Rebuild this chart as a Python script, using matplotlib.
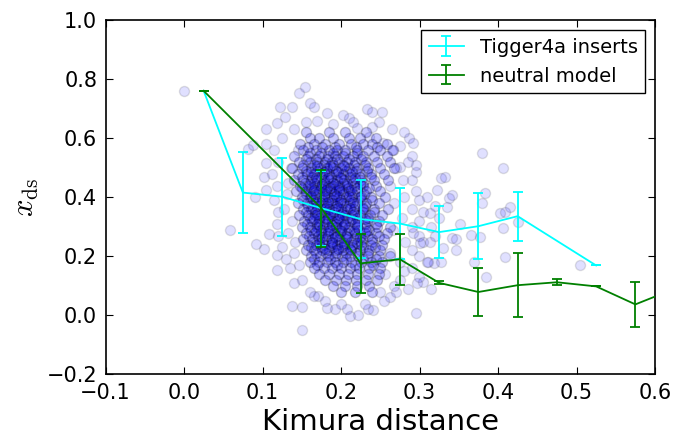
import numpy as np
import matplotlib
matplotlib.use('Agg')
import matplotlib.pyplot as plt

plt.rcParams['mathtext.fontset'] = 'cm'

# ── binned means (Tigger4a inserts) ───────────────────────────────────────────
ins_x = [0.025, 0.075, 0.125, 0.175, 0.225, 0.275, 0.325, 0.375, 0.425, 0.525]
ins_y = [0.761, 0.416, 0.402, 0.363, 0.326, 0.311, 0.282, 0.302, 0.336, 0.169]
ins_err = [0.0, 0.137, 0.132, 0.127, 0.131, 0.121, 0.087, 0.112, 0.083, 0.0]

# ── neutral model ─────────────────────────────────────────────────────────────
neu_x = [0.025, 0.175, 0.225, 0.275, 0.325, 0.375, 0.425, 0.475, 0.525, 0.575, 0.625]
neu_y = [0.761, 0.363, 0.176, 0.190, 0.110, 0.079, 0.102, 0.112, 0.098, 0.037, 0.090]
neu_err = [0.0, 0.130, 0.100, 0.087, 0.005, 0.080, 0.108, 0.010, 0.0, 0.075, 0.03]

# ── individual inserts, sparse outskirts (x, x_ds) ───────────────────────────
outer_pts = [
    (0.000, 0.761), (0.058, 0.290), (0.092, 0.242), (0.102, 0.224), (0.108, 0.276),
    (0.090, 0.400), (0.102, 0.470), (0.104, 0.425), (0.105, 0.515), (0.081, 0.563),
    (0.088, 0.577), (0.105, 0.580), (0.105, 0.630), (0.118, 0.651), (0.122, 0.707),
    (0.129, 0.673), (0.138, 0.705), (0.147, 0.755), (0.154, 0.773), (0.160, 0.721),
    (0.166, 0.707), (0.182, 0.685), (0.203, 0.679), (0.210, 0.668), (0.233, 0.698),
    (0.240, 0.690), (0.252, 0.688), (0.248, 0.656), (0.220, 0.634), (0.236, 0.603),
    (0.254, 0.585), (0.265, 0.560), (0.275, 0.575), (0.286, 0.600), (0.292, 0.583),
    (0.275, 0.504), (0.296, 0.487), (0.290, 0.459), (0.279, 0.459), (0.322, 0.425),
    (0.327, 0.464), (0.333, 0.468), (0.341, 0.408), (0.337, 0.397), (0.335, 0.368),
    (0.379, 0.549), (0.406, 0.498), (0.384, 0.416), (0.379, 0.380), (0.415, 0.366),
    (0.403, 0.346), (0.409, 0.350), (0.352, 0.310), (0.305, 0.351), (0.313, 0.346),
    (0.407, 0.295), (0.426, 0.317), (0.366, 0.272), (0.377, 0.264), (0.409, 0.199),
    (0.385, 0.129), (0.504, 0.170), (0.369, 0.182), (0.341, 0.261), (0.347, 0.260),
    (0.347, 0.221), (0.328, 0.182), (0.315, 0.088), (0.296, 0.007), (0.305, 0.114),
    (0.297, 0.110), (0.300, 0.130), (0.318, 0.176), (0.311, 0.180), (0.305, 0.250),
    (0.313, 0.247), (0.330, 0.227), (0.301, 0.244), (0.309, 0.182), (0.262, 0.063),
    (0.241, 0.018), (0.235, 0.020), (0.222, 0.001), (0.212, -0.002), (0.208, 0.020),
    (0.192, 0.020), (0.182, 0.024), (0.171, 0.065), (0.165, 0.065), (0.150, 0.029),
    (0.138, 0.031), (0.150, -0.050), (0.140, 0.108), (0.118, 0.154), (0.119, 0.204),
    (0.292, 0.278), (0.295, 0.420), (0.300, 0.390), (0.310, 0.400), (0.320, 0.370),
    (0.290, 0.360), (0.300, 0.320), (0.315, 0.300), (0.325, 0.330), (0.290, 0.300),
    (0.300, 0.270), (0.320, 0.270), (0.290, 0.220), (0.300, 0.200), (0.280, 0.150),
    (0.290, 0.160), (0.275, 0.120), (0.285, 0.090), (0.270, 0.080), (0.255, 0.050),
    (0.230, 0.040), (0.200, 0.040), (0.180, 0.050), (0.160, 0.080), (0.150, 0.120),
    (0.135, 0.160), (0.130, 0.190), (0.125, 0.230), (0.120, 0.270), (0.118, 0.310),
    (0.120, 0.350), (0.115, 0.390), (0.118, 0.440), (0.112, 0.480), (0.120, 0.520),
    (0.115, 0.560), (0.125, 0.600), (0.140, 0.630), (0.155, 0.655), (0.170, 0.660),
    (0.190, 0.650), (0.215, 0.655), (0.240, 0.640), (0.265, 0.630), (0.280, 0.620),
    (0.290, 0.540), (0.285, 0.520), (0.295, 0.510), (0.268, 0.100), (0.250, 0.080),
    (0.275, 0.180), (0.282, 0.250), (0.278, 0.330), (0.280, 0.400), (0.270, 0.500),
    (0.132, 0.450), (0.128, 0.360), (0.133, 0.280), (0.140, 0.210), (0.145, 0.560),
    (0.136, 0.500), (0.131, 0.410), (0.137, 0.320), (0.142, 0.250), (0.146, 0.170),
    (0.262, 0.440), (0.268, 0.380), (0.266, 0.290), (0.262, 0.210), (0.256, 0.140),
]

# ── individual inserts, dense body: rows of (x_ds, [Kimura distances]) ───────
core_rows = [
    (0.62, [0.155, 0.185, 0.205, 0.232]),
    (0.60, [0.160, 0.172, 0.190, 0.210, 0.224, 0.245]),
    (0.58, [0.148, 0.165, 0.180, 0.198, 0.213, 0.228, 0.240, 0.258]),
    (0.57, [0.158, 0.176, 0.192, 0.219, 0.246]),
    (0.56, [0.152, 0.168, 0.185, 0.195, 0.205, 0.220, 0.235, 0.250, 0.266]),
    (0.55, [0.160, 0.175, 0.190, 0.205, 0.220]),
    (0.54, [0.140, 0.158, 0.172, 0.183, 0.192, 0.202, 0.215, 0.228, 0.242, 0.258]),
    (0.53, [0.155, 0.168, 0.182, 0.195, 0.210, 0.225]),
    (0.52, [0.146, 0.160, 0.170, 0.180, 0.188, 0.198, 0.208, 0.218, 0.232, 0.246, 0.262]),
    (0.51, [0.152, 0.165, 0.178, 0.190, 0.203, 0.216, 0.230]),
    (0.50, [0.138, 0.150, 0.162, 0.173, 0.182, 0.190, 0.200, 0.210, 0.220, 0.235, 0.250, 0.268]),
    (0.49, [0.156, 0.170, 0.181, 0.194, 0.206, 0.219, 0.233]),
    (0.48, [0.145, 0.157, 0.166, 0.176, 0.185, 0.193, 0.202, 0.212, 0.224, 0.238, 0.255]),
    (0.47, [0.150, 0.163, 0.175, 0.187, 0.199, 0.211, 0.224, 0.238]),
    (0.46, [0.140, 0.152, 0.162, 0.170, 0.178, 0.186, 0.195, 0.204, 0.214, 0.226, 0.242, 0.260]),
    (0.45, [0.154, 0.166, 0.178, 0.190, 0.202, 0.215, 0.228]),
    (0.44, [0.148, 0.158, 0.167, 0.175, 0.183, 0.190, 0.198, 0.207, 0.216, 0.228, 0.245]),
    (0.43, [0.150, 0.162, 0.174, 0.186, 0.197, 0.209, 0.221, 0.236]),
    (0.42, [0.143, 0.155, 0.164, 0.172, 0.180, 0.187, 0.194, 0.202, 0.210, 0.220, 0.232, 0.250]),
    (0.41, [0.156, 0.168, 0.179, 0.191, 0.203, 0.215, 0.229]),
    (0.40, [0.150, 0.160, 0.168, 0.176, 0.184, 0.191, 0.198, 0.206, 0.214, 0.224, 0.238, 0.256]),
    (0.39, [0.152, 0.164, 0.176, 0.188, 0.200, 0.212, 0.225, 0.240]),
    (0.38, [0.145, 0.157, 0.166, 0.174, 0.181, 0.188, 0.195, 0.203, 0.211, 0.220, 0.232, 0.248]),
    (0.37, [0.158, 0.170, 0.182, 0.194, 0.206, 0.218, 0.231]),
    (0.36, [0.152, 0.162, 0.170, 0.178, 0.185, 0.192, 0.200, 0.208, 0.217, 0.228, 0.242, 0.260]),
    (0.35, [0.155, 0.167, 0.179, 0.191, 0.203, 0.215, 0.228, 0.242]),
    (0.34, [0.147, 0.158, 0.167, 0.175, 0.183, 0.190, 0.197, 0.205, 0.214, 0.224, 0.237, 0.252]),
    (0.33, [0.160, 0.172, 0.184, 0.196, 0.208, 0.221, 0.234]),
    (0.32, [0.153, 0.163, 0.172, 0.180, 0.188, 0.195, 0.203, 0.212, 0.222, 0.234, 0.248]),
    (0.31, [0.157, 0.169, 0.181, 0.193, 0.205, 0.218, 0.231, 0.245]),
    (0.30, [0.150, 0.160, 0.169, 0.177, 0.185, 0.193, 0.201, 0.210, 0.220, 0.232, 0.246, 0.262]),
    (0.29, [0.162, 0.174, 0.186, 0.198, 0.210, 0.223, 0.236]),
    (0.28, [0.156, 0.166, 0.175, 0.183, 0.191, 0.199, 0.208, 0.218, 0.230, 0.244, 0.258]),
    (0.27, [0.159, 0.171, 0.183, 0.195, 0.207, 0.220, 0.234, 0.248]),
    (0.26, [0.152, 0.163, 0.172, 0.181, 0.189, 0.197, 0.206, 0.216, 0.227, 0.240, 0.255]),
    (0.25, [0.164, 0.176, 0.188, 0.200, 0.213, 0.226, 0.240]),
    (0.24, [0.158, 0.168, 0.178, 0.187, 0.195, 0.204, 0.214, 0.225, 0.238, 0.252]),
    (0.23, [0.162, 0.175, 0.188, 0.201, 0.214, 0.228, 0.243]),
    (0.22, [0.155, 0.166, 0.176, 0.185, 0.194, 0.203, 0.213, 0.224, 0.236, 0.250]),
    (0.21, [0.168, 0.181, 0.194, 0.207, 0.220, 0.234]),
    (0.20, [0.162, 0.173, 0.183, 0.192, 0.201, 0.211, 0.222, 0.234, 0.248, 0.262]),
    (0.19, [0.166, 0.186, 0.206, 0.228, 0.244]),
    (0.18, [0.160, 0.172, 0.182, 0.192, 0.202, 0.213, 0.225, 0.238, 0.252]),
    (0.17, [0.170, 0.195, 0.218, 0.241]),
    (0.16, [0.166, 0.178, 0.189, 0.200, 0.211, 0.223, 0.236, 0.250]),
    (0.14, [0.172, 0.185, 0.197, 0.209, 0.221, 0.234, 0.248]),
    (0.12, [0.180, 0.193, 0.206, 0.219, 0.232, 0.246]),
    (0.10, [0.190, 0.205, 0.220, 0.236]),
    (0.08, [0.200, 0.218, 0.240]),
]

# ── densest part of the body, extra inserts between the rows above ────────────
centre_rows = [
    (0.505, [0.170, 0.186, 0.204]),
    (0.485, [0.162, 0.178, 0.196, 0.214]),
    (0.465, [0.168, 0.183, 0.200, 0.218]),
    (0.445, [0.160, 0.176, 0.192, 0.208, 0.224]),
    (0.425, [0.166, 0.181, 0.197, 0.213]),
    (0.405, [0.162, 0.178, 0.194, 0.210, 0.226]),
    (0.385, [0.168, 0.184, 0.199, 0.215]),
    (0.365, [0.164, 0.180, 0.196, 0.212, 0.228]),
    (0.345, [0.170, 0.186, 0.201, 0.217]),
    (0.325, [0.166, 0.182, 0.198, 0.214, 0.230]),
    (0.305, [0.172, 0.188, 0.204, 0.220]),
    (0.285, [0.168, 0.184, 0.200, 0.216, 0.232]),
    (0.265, [0.176, 0.192, 0.208, 0.224]),
    (0.245, [0.172, 0.188, 0.204, 0.220]),
    (0.225, [0.180, 0.196, 0.212]),
]

out_x = [p[0] for p in outer_pts]
out_y = [p[1] for p in outer_pts]
core_x, core_y = [], []
for yv, xs in core_rows + centre_rows:
    core_x += xs
    core_y += [yv] * len(xs)

fig = plt.figure(figsize=(6.76, 4.43), dpi=100)
W, H = 676.0, 443.0
ax = fig.add_axes([105.5 / W, (H - 374.3) / H, (655 - 105.5) / W, (374.3 - 20.3) / H])

ax.scatter(out_x, out_y, s=52, c='b', edgecolors='k', linewidths=1.0, alpha=0.12, zorder=1)
ax.scatter(core_x, core_y, s=52, c='b', edgecolors='k', linewidths=1.0, alpha=0.22, zorder=1)

ax.errorbar(ins_x, ins_y, yerr=ins_err, color='cyan', lw=1.3, capsize=3.5,
            capthick=1.3, label='Tigger4a inserts', zorder=2)
ax.errorbar(neu_x, neu_y, yerr=neu_err, color='g', lw=1.3, capsize=3.5,
            capthick=1.3, label='neutral model', zorder=3)

ax.set_xlim(-0.1, 0.6)
ax.set_ylim(-0.2, 1.0)
ax.set_xticks(np.arange(-0.1, 0.61, 0.1))
ax.set_yticks(np.arange(-0.2, 1.01, 0.2))
ax.tick_params(direction='in', top=True, right=True, labelsize=15, length=5, pad=6)
for sp in ax.spines.values():
    sp.set_linewidth(1.2)

ax.set_xlabel('Kimura distance', fontsize=21)
ax.set_ylabel(r'$x_{\rm ds}$', fontsize=22)

leg = ax.legend(loc='upper right', fontsize=14, fancybox=False, framealpha=1,
                edgecolor='k', handlelength=1.8, borderaxespad=0.5)
leg.get_frame().set_linewidth(1.0)

plt.savefig('out.png', dpi=100)
